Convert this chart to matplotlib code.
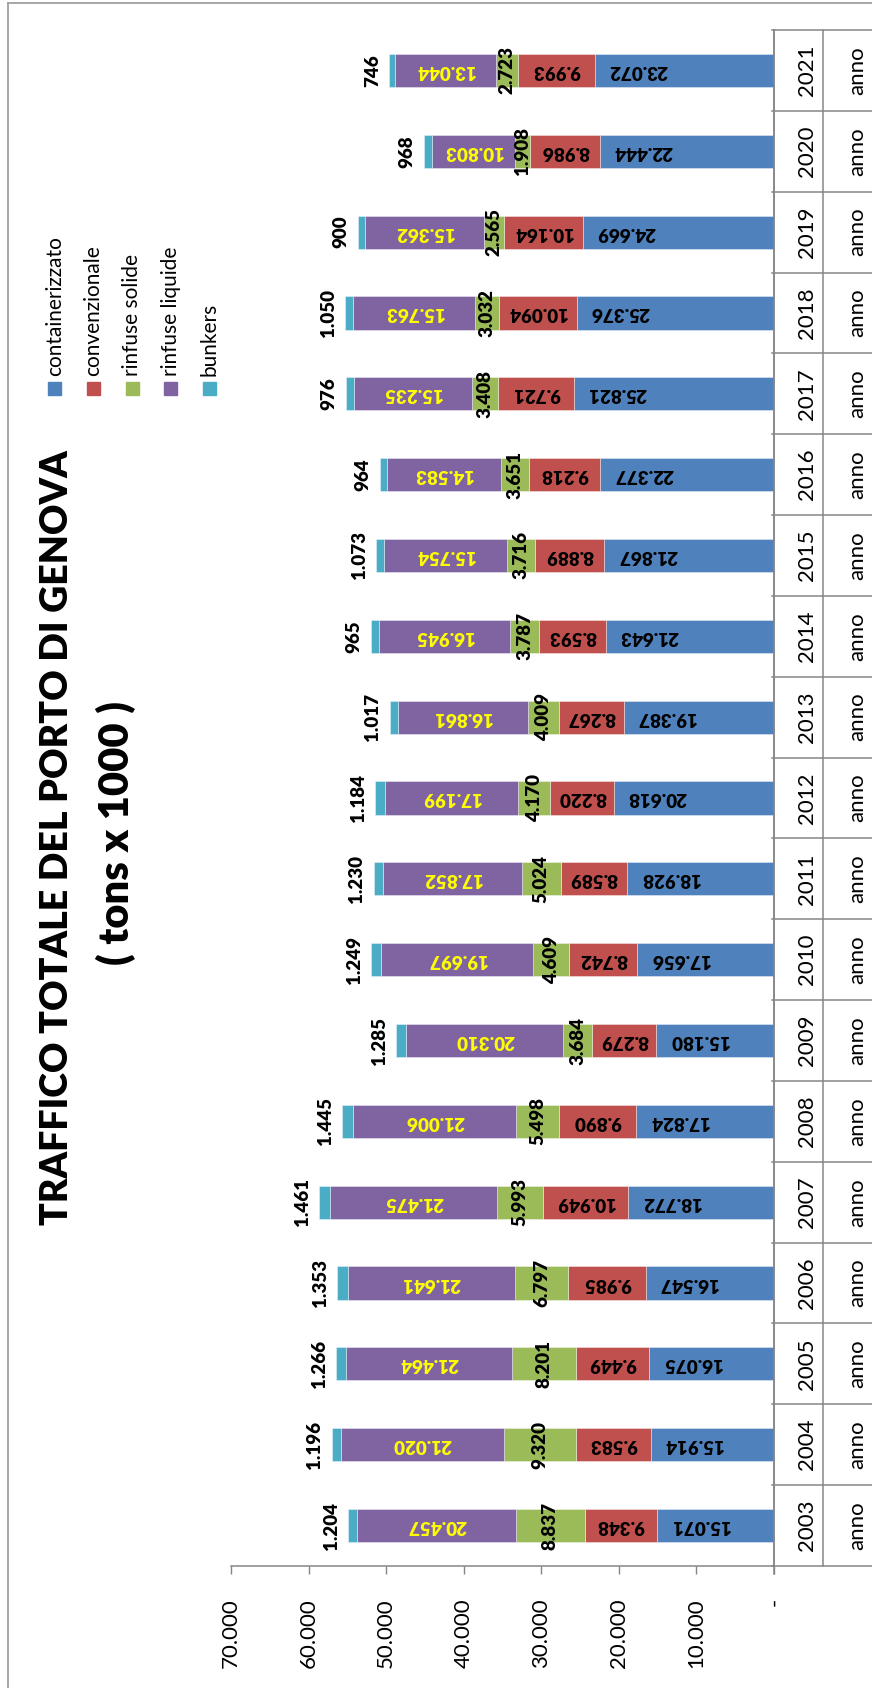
import matplotlib
matplotlib.use("Agg")
import matplotlib.pyplot as plt
import numpy as np
from matplotlib.transforms import blended_transform_factory
from matplotlib.patches import Rectangle
from matplotlib.lines import Line2D

plt.rcParams['font.family'] = ['Lato', 'DejaVu Sans']

# dati (tons x 1000)
anni = [2003, 2004, 2005, 2006, 2007, 2008, 2009, 2010, 2011, 2012,
        2013, 2014, 2015, 2016, 2017, 2018, 2019, 2020, 2021]
containerizzato = [15071, 15914, 16075, 16547, 18772, 17824, 15180, 17656, 18928, 20618,
                   19387, 21643, 21867, 22377, 25821, 25376, 24669, 22444, 23072]
convenzionale = [9348, 9583, 9449, 9985, 10949, 9890, 8279, 8742, 8589, 8220,
                 8267, 8593, 8889, 9218, 9721, 10094, 10164, 8986, 9993]
rinfuse_solide = [8837, 9320, 8201, 6797, 5993, 5498, 3684, 4609, 5024, 4170,
                  4009, 3787, 3716, 3651, 3408, 3032, 2565, 1908, 2723]
rinfuse_liquide = [20457, 21020, 21464, 21641, 21475, 21006, 20310, 19697, 17852, 17199,
                   16861, 16945, 15754, 14583, 15235, 15763, 15362, 10803, 13044]
bunkers = [1204, 1196, 1266, 1353, 1461, 1445, 1285, 1249, 1230, 1184,
           1017, 965, 1073, 964, 976, 1050, 900, 968, 746]

serie = ["containerizzato", "convenzionale", "rinfuse solide", "rinfuse liquide", "bunkers"]
colori = ["#4F81BD", "#C0504D", "#9BBB59", "#8064A2", "#4BACC6"]
tick_valori = [0, 10000, 20000, 30000, 40000, 50000, 60000, 70000]
titolo = "TRAFFICO TOTALE DEL PORTO DI GENOVA"
sottotitolo = "( tons x 1000 )"


def fmt(v):
    if v == 0:
        return "-"
    return f"{v:,}".replace(",", ".")


W, H = 872, 1688
def fx(px):
    return px / W
def fy(py):
    return 1 - py / H

fig = plt.figure(figsize=(W / 100, H / 100), dpi=100)
ax = fig.add_axes([fx(231), fy(1566), 543 / W, 1536 / H])

dati = [containerizzato, convenzionale, rinfuse_solide, rinfuse_liquide, bunkers]
y = np.arange(len(anni))
left = np.zeros(len(anni))
for nome, valori, col in zip(serie, dati, colori):
    ax.barh(y, valori, left=left, height=0.41, color=col,
            edgecolor=(1, 1, 1, 0.45), linewidth=0.6, label=nome)
    left = left + np.array(valori)

ax.set_xlim(70000, 0)
ax.set_ylim(-0.5, len(anni) - 0.5)

fs_lab = 13.5
peso = 'heavy'
for i in range(len(anni)):
    c = containerizzato[i]
    r = convenzionale[i]
    s = rinfuse_solide[i]
    l = rinfuse_liquide[i]
    b = bunkers[i]
    # containerizzato: vicino alla fine del segmento
    ax.annotate(fmt(c), xy=(c, i), xytext=(10, 0), textcoords='offset points',
                rotation=180, ha='left', va='center', fontsize=fs_lab, fontweight=peso)
    ax.text(c + r / 2, i, fmt(r), rotation=180, ha='center', va='center',
            fontsize=fs_lab, fontweight=peso)
    ax.text(c + r + s / 2, i, fmt(s), rotation=90, ha='center', va='center',
            fontsize=fs_lab, fontweight=peso)
    ax.text(c + r + s + l / 2, i, fmt(l), rotation=180, ha='center', va='center',
            fontsize=fs_lab, fontweight=peso, color='#FFFF00')
    ax.annotate(fmt(b), xy=(c + r + s + l + b, i), xytext=(-6, 0), textcoords='offset points',
                rotation=90, ha='right', va='center', fontsize=fs_lab, fontweight=peso)

ax.set_xticks(tick_valori)
ax.set_xticklabels([fmt(v) for v in tick_valori], rotation=90, fontsize=16)
ax.tick_params(axis='x', length=6, width=1, color='#868686', direction='out', pad=17)
ax.set_yticks([])
for lato in ['top', 'left']:
    ax.spines[lato].set_visible(False)
for lato in ['bottom', 'right']:
    ax.spines[lato].set_color('#868686')
    ax.spines[lato].set_linewidth(1.1)

# tabella anni a destra
tr = blended_transform_factory(ax.transAxes, ax.transData)
def xa(px):
    return (px - 231) / 543
for k in range(len(anni) + 1):
    ax.add_line(Line2D([xa(772), xa(880)], [k - 0.5, k - 0.5], transform=tr,
                       color='#868686', lw=1.1, clip_on=False))
ax.add_line(Line2D([xa(823), xa(823)], [-0.5, len(anni) - 0.5], transform=tr,
                   color='#868686', lw=1.1, clip_on=False))
ax.add_line(Line2D([1, 1], [-0.6, len(anni) - 0.5], transform=tr,
                   color='#868686', lw=1.1, clip_on=False))
for i, a in enumerate(anni):
    ax.text(xa(807), i, str(a), transform=tr, rotation=90, ha='center', va='center', fontsize=16)
    ax.text(xa(857), i, "anno", transform=tr, rotation=90, ha='center', va='center', fontsize=16)

# legenda
for i, (nome, col) in enumerate(zip(serie, colori)):
    cx = 54.7 + i * 38.7
    fig.patches.append(Rectangle((fx(cx - 6.5), fy(395)), 13 / W, 13 / H,
                                 transform=fig.transFigure, color=col))
    fig.text(fx(cx), fy(376), nome, rotation=90, ha='center', va='bottom', fontsize=15)

# titolo
fig.text(fx(57), fy(838), titolo, rotation=90, ha='center', va='center',
         fontsize=27, fontweight='heavy')
fig.text(fx(116), fy(833), sottotitolo, rotation=90, ha='center', va='center',
         fontsize=30, fontweight='heavy')

# bordo del grafico
fig.lines.append(Line2D([fx(8), fx(8)], [fy(3), 0], transform=fig.transFigure,
                        color='#A0A0A0', lw=1.3))
fig.lines.append(Line2D([fx(8), 1], [fy(3), fy(3)], transform=fig.transFigure,
                        color='#A0A0A0', lw=1.3))

fig.savefig("out.png", dpi=100)
